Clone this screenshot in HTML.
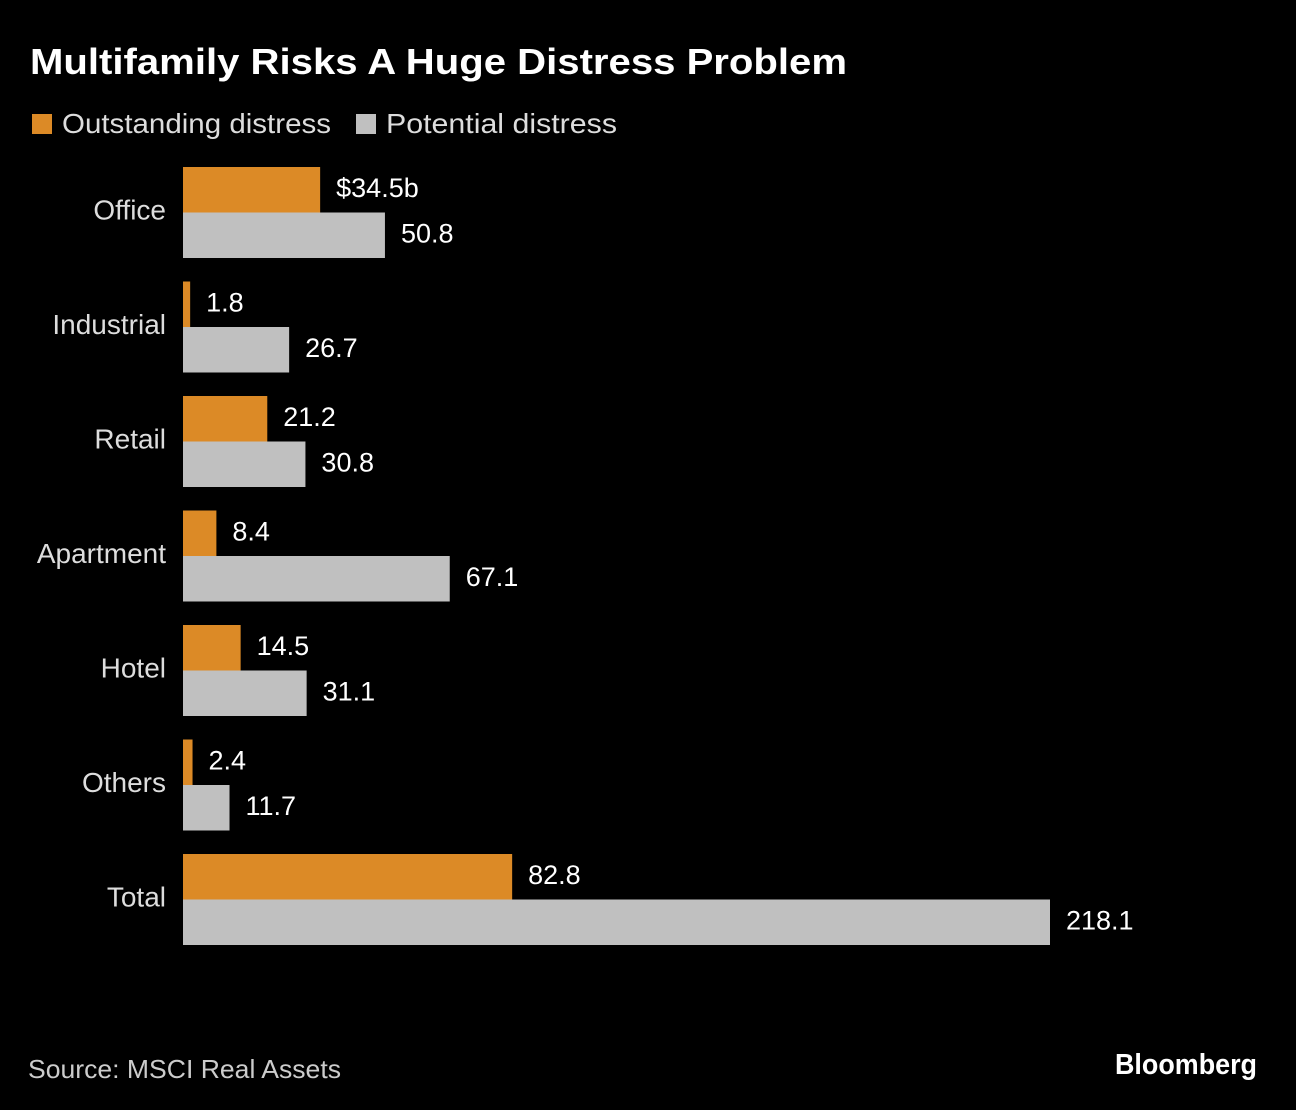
<!DOCTYPE html>
<html><head><meta charset="utf-8"><style>
html,body{margin:0;padding:0;background:#000;}
svg{display:block;font-family:"Liberation Sans",sans-serif;}
</style></head><body>
<svg id="chart" width="1296" height="1110" viewBox="0 0 1296 1110">
<rect width="1296" height="1110" fill="#000"/>
<text x="30" y="74" fill="#fff" font-size="36" font-weight="bold" textLength="817" lengthAdjust="spacingAndGlyphs">Multifamily Risks A Huge Distress Problem</text>
<rect x="32" y="114" width="20" height="20" fill="#dc8a26"/>
<text x="62" y="133" fill="#ddd" font-size="28" textLength="269" lengthAdjust="spacingAndGlyphs">Outstanding distress</text>
<rect x="356" y="114" width="20" height="20" fill="#c0c0c0"/>
<text x="386" y="133" fill="#ddd" font-size="28" textLength="231" lengthAdjust="spacingAndGlyphs">Potential distress</text>
<g id="bars"></g>
<text x="28" y="1078" fill="#ccc" font-size="26" textLength="313" lengthAdjust="spacingAndGlyphs">Source: MSCI Real Assets</text>
<text x="1257" y="1074" fill="#fff" font-size="29" font-weight="bold" text-anchor="end" textLength="142" lengthAdjust="spacingAndGlyphs">Bloomberg</text>
</svg>
<script>
const categories = ["Office","Industrial","Retail","Apartment","Hotel","Others","Total"];
const outstanding = [34.5,1.8,21.2,8.4,14.5,2.4,82.8];
const potential = [50.8,26.7,30.8,67.1,31.1,11.7,218.1];
const outstandingLabels = ["$34.5b","1.8","21.2","8.4","14.5","2.4","82.8"];
const potentialLabels = ["50.8","26.7","30.8","67.1","31.1","11.7","218.1"];

const NS = "http://www.w3.org/2000/svg";
const g = document.getElementById('bars');
const x0 = 183, pxPerUnit = 867/218.1;
const xScale = v => x0 + v*pxPerUnit;
const yTop = i => 167 + i*114.5;
const barH = 45.5;
function mk(tag, attrs){const e=document.createElementNS(NS,tag);for(const k in attrs)e.setAttribute(k,attrs[k]);g.appendChild(e);return e;}
categories.forEach((c,i)=>{
  const y = yTop(i);
  const cl = mk('text',{x:166,y:y+barH+7,fill:'#ddd','font-size':28,'text-anchor':'end'});
  
  
  cl.textContent = c;
  const ob = mk('rect',{x:x0,y:y,width:xScale(outstanding[i])-x0,height:barH,fill:'#dc8a26'});
  
  
  const ol = mk('text',{x:xScale(outstanding[i])+16,y:y+barH/2+7,fill:'#fff','font-size':27});
  
  
  ol.textContent = outstandingLabels[i];
  const pb = mk('rect',{x:x0,y:y+barH,width:xScale(potential[i])-x0,height:barH,fill:'#c0c0c0'});
  
  
  const pl = mk('text',{x:xScale(potential[i])+16,y:y+barH*1.5+7,fill:'#fff','font-size':27});
  
  
  pl.textContent = potentialLabels[i];
});
</script>
</body></html>
